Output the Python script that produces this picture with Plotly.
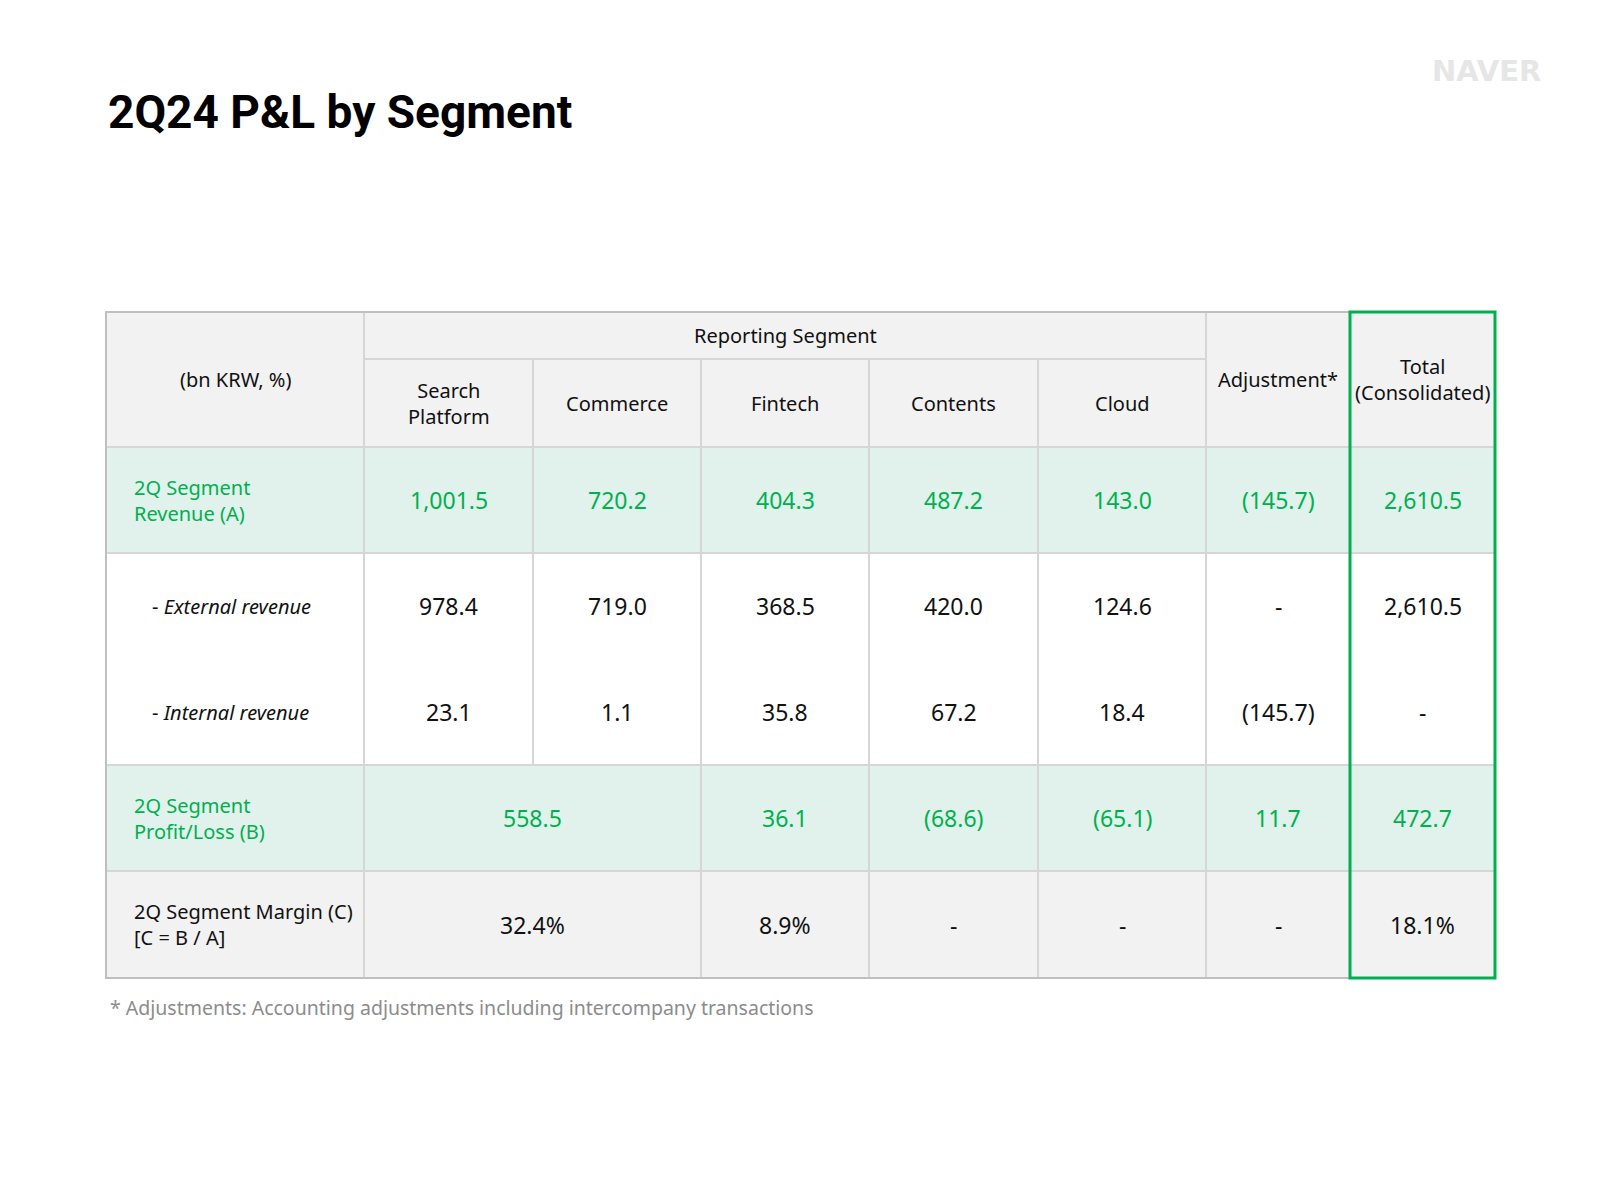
import plotly.graph_objects as go

# ---- table content ----
title = "2Q24 P&L by Segment"
brand = "NAVER"
unit_label = "(bn KRW, %)"
group_label = "Reporting Segment"
segments = ["Search<br>Platform", "Commerce", "Fintech", "Contents", "Cloud"]
adjust_label = "Adjustment*"
total_label = "Total<br>(Consolidated)"

revenue_label = "2Q Segment<br>Revenue (A)"
external_label = "- <i>External revenue</i>"
internal_label = "- <i>Internal revenue</i>"
profit_label = "2Q Segment<br>Profit/Loss (B)"
margin_label = "2Q Segment Margin (C)<br>[C = B / A]"

# Search, Commerce, Fintech, Contents, Cloud, Adjustment, Total
revenue = ["1,001.5", "720.2", "404.3", "487.2", "143.0", "(145.7)", "2,610.5"]
external_rev = ["978.4", "719.0", "368.5", "420.0", "124.6", "-", "2,610.5"]
internal_rev = ["23.1", "1.1", "35.8", "67.2", "18.4", "(145.7)", "-"]
# Search + Commerce reported together for profit and margin
profit = ["558.5", "36.1", "(68.6)", "(65.1)", "11.7", "472.7"]
margin = ["32.4%", "8.9%", "-", "-", "-", "18.1%"]

footnote = "* Adjustments: Accounting adjustments including intercompany transactions"

# ---- layout (page-pixel grid of the table) ----
col_edges = [106, 364, 533, 701, 869, 1038, 1206, 1350, 1495]
y_top, y_sub, y_head, y_rev, y_mid, y_int, y_prof, y_marg = 312, 359, 447, 553, 659, 765, 871, 978

GREEN = "#00B050"
MINT = "#E0F2EB"
GRAY = "#F2F2F2"
GRID = "#D6D6D6"
BORDER = "#BFBFBF"
TEXT = "#111111"
FONT = "Noto Sans"
PAGE_PAD = 8  # body margin of the html page


def center(i, j=None):
    j = i if j is None else j
    return (col_edges[i] + col_edges[j + 1]) / 2


fig = go.Figure()
shapes = []
annotations = []


def rect(x0, y0, x1, y1, fill):
    shapes.append(dict(type="rect", x0=x0, x1=x1, y0=y0, y1=y1, fillcolor=fill,
                       line=dict(width=0), layer="below"))


def line(x0, y0, x1, y1, color=GRID, width=2):
    shapes.append(dict(type="line", x0=x0, x1=x1, y0=y0, y1=y1,
                       line=dict(color=color, width=width)))


def text(x, y, s, size=20, color=TEXT, anchor="center"):
    annotations.append(dict(x=x, y=y, text=s, showarrow=False, xanchor=anchor, yanchor="middle",
                            align="left" if anchor == "left" else "center",
                            font=dict(family=FONT, size=size, color=color)))


left, right = col_edges[0], col_edges[-1]

# row fills
rect(left, y_top, right, y_head, GRAY)
rect(left, y_head, right, y_rev, MINT)
rect(left, y_rev, right, y_int, "white")
rect(left, y_int, right, y_prof, MINT)
rect(left, y_prof, right, y_marg, GRAY)

# horizontal grid lines
line(col_edges[1], y_sub, col_edges[6], y_sub)
for yy in (y_head, y_rev, y_int, y_prof):
    line(left, yy, right, yy)

# vertical grid lines
line(col_edges[1], y_top, col_edges[1], y_marg)
line(col_edges[2], y_sub, col_edges[2], y_int)
for i in (3, 4, 5):
    line(col_edges[i], y_sub, col_edges[i], y_marg)
line(col_edges[6], y_top, col_edges[6], y_marg)

# outer border and highlighted total column
shapes.append(dict(type="rect", x0=left, x1=right, y0=y_top, y1=y_marg,
                   line=dict(color=BORDER, width=2)))
shapes.append(dict(type="rect", x0=col_edges[7], x1=col_edges[8], y0=y_top, y1=y_marg,
                   line=dict(color=GREEN, width=3)))

# header texts
text(center(0), (y_top + y_head) / 2, unit_label)
text(center(1, 5), (y_top + y_sub) / 2, group_label)
for i, seg in enumerate(segments):
    text(center(i + 1), (y_sub + y_head) / 2, seg)
text(center(6), (y_top + y_head) / 2, adjust_label)
text(center(7), (y_top + y_head) / 2, total_label)

# row labels
lab_x = 132
text(lab_x, (y_head + y_rev) / 2, revenue_label, color=GREEN, anchor="left")
text(150, (y_rev + y_mid) / 2, external_label, anchor="left")
text(150, (y_mid + y_int) / 2, internal_label, anchor="left")
text(lab_x, (y_int + y_prof) / 2, profit_label, color=GREEN, anchor="left")
text(lab_x, (y_prof + y_marg) / 2, margin_label, anchor="left")

# values
NUM = 23
for i, v in enumerate(revenue):
    text(center(i + 1), (y_head + y_rev) / 2, v, size=NUM, color=GREEN)
for i, v in enumerate(external_rev):
    text(center(i + 1), (y_rev + y_mid) / 2, v, size=NUM)
for i, v in enumerate(internal_rev):
    text(center(i + 1), (y_mid + y_int) / 2, v, size=NUM)

merged_cols = [(1, 2), (3, 3), (4, 4), (5, 5), (6, 6), (7, 7)]
for (a, b), v in zip(merged_cols, profit):
    text(center(a, b), (y_int + y_prof) / 2, v, size=NUM, color=GREEN)
for (a, b), v in zip(merged_cols, margin):
    text(center(a, b), (y_prof + y_marg) / 2, v, size=NUM)

# title, brand, footnote
annotations.append(dict(x=106, y=112, text=f"<b>{title}</b>", showarrow=False, xanchor="left",
                        yanchor="middle", font=dict(family="Roboto", size=46, color="black")))
annotations.append(dict(x=1543, y=71, text=f"<b>{brand}</b>", showarrow=False, xanchor="right",
                        yanchor="middle", font=dict(family="DejaVu Sans", size=29, color="#E6E6E6")))
annotations.append(dict(x=108, y=1007, text=footnote, showarrow=False, xanchor="left",
                        yanchor="middle", font=dict(family=FONT, size=19.5, color="#8C8C8C")))

W, H = 1600 - 2 * PAGE_PAD, 1200 - 2 * PAGE_PAD
fig.update_layout(
    width=W, height=H,
    margin=dict(t=0, r=0, b=0, l=0),
    paper_bgcolor="white", plot_bgcolor="white",
    xaxis=dict(range=[PAGE_PAD, PAGE_PAD + W], visible=False, fixedrange=True),
    yaxis=dict(range=[PAGE_PAD + H, PAGE_PAD], visible=False, fixedrange=True),
    shapes=shapes,
    annotations=annotations,
    showlegend=False,
)

fig.write_html("out.html")
